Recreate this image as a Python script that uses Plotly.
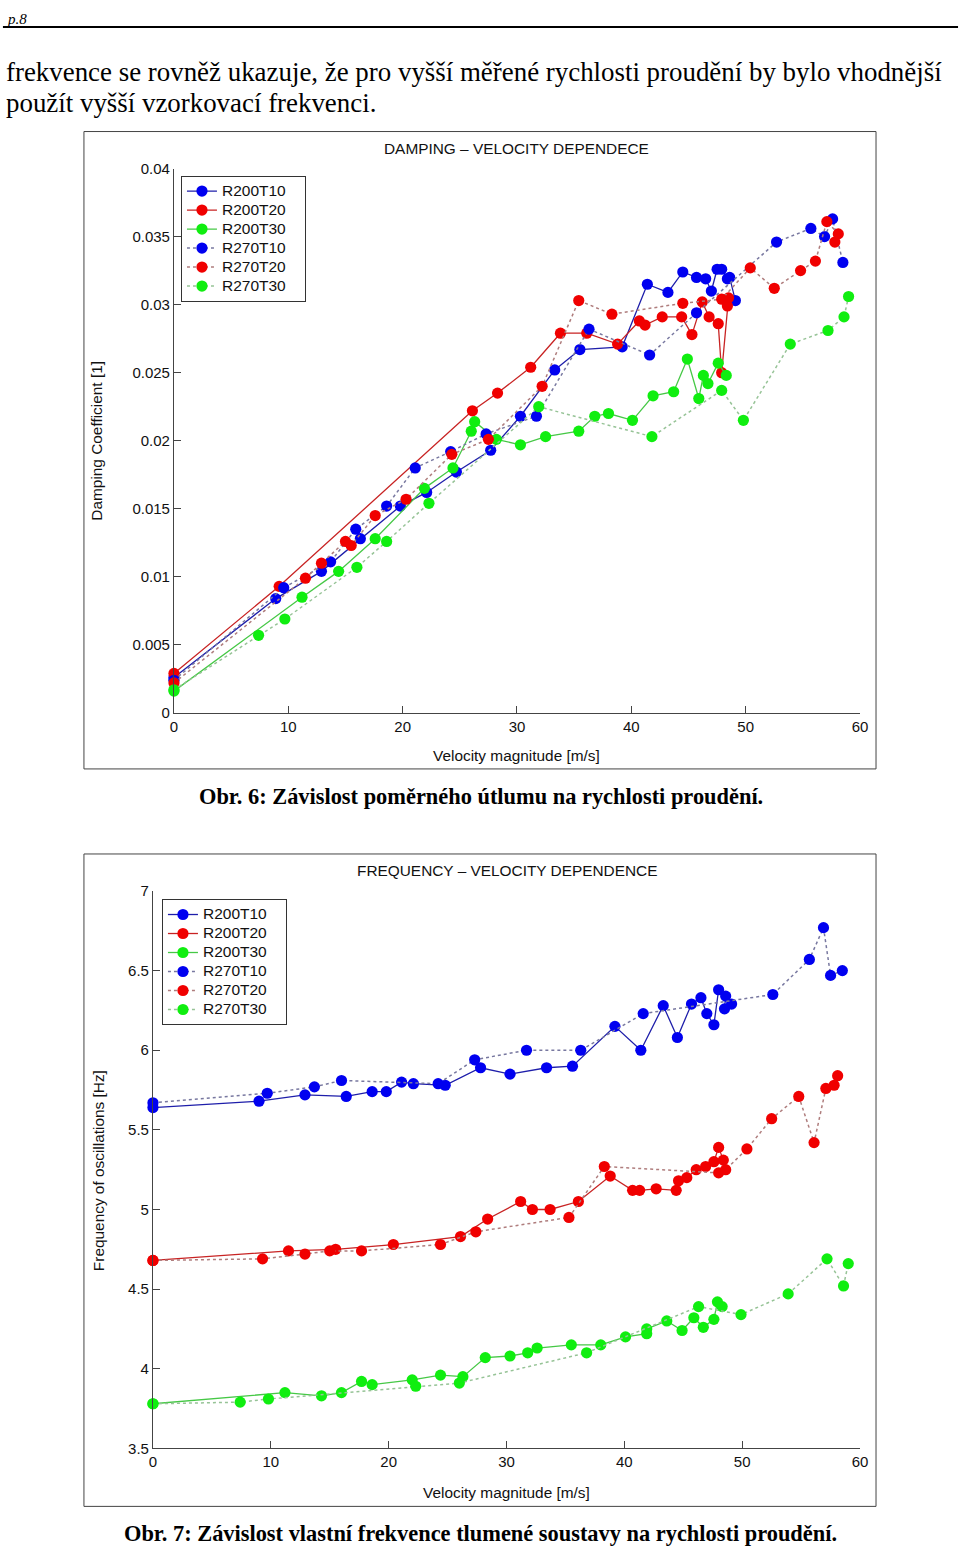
import plotly.graph_objects as go

W, H = 960, 1547

# ---------------- Chart 1: damping vs velocity ----------------
damp_v_R200T10 = [0, 8.9, 12.9, 16.3, 19.8, 22.1, 24.7, 27.7, 30.3, 33.3, 35.5, 39.2, 41.4, 43.2, 44.5, 45.7, 46.5, 47.0, 47.5, 47.9, 48.4, 48.6, 49.1]
damp_R200T10 = [0.0026, 0.0084, 0.0104, 0.0128, 0.0152, 0.0162, 0.0177, 0.0193, 0.0218, 0.0252, 0.0267, 0.0269, 0.0315, 0.0309, 0.0324, 0.0320, 0.0319, 0.0310, 0.0326, 0.0326, 0.0319, 0.0320, 0.0303]

damp_v_R200T20 = [0, 9.2, 26.1, 28.3, 31.2, 33.8, 36.1, 38.8, 40.7, 41.2, 42.7, 44.4, 45.3, 46.2, 46.8, 47.6, 47.9, 48.4, 48.5]
damp_R200T20 = [0.0029, 0.0093, 0.0222, 0.0235, 0.0254, 0.0279, 0.0279, 0.0271, 0.0288, 0.0285, 0.0291, 0.0291, 0.0278, 0.0302, 0.0291, 0.0286, 0.0250, 0.0299, 0.0305]

damp_v_R200T30 = [0, 11.2, 14.4, 17.6, 21.9, 24.4, 26.0, 26.3, 28.2, 30.3, 32.5, 35.4, 36.8, 38.0, 40.1, 41.9, 43.7, 44.9, 45.9, 46.3, 46.7, 47.6, 48.3]
damp_R200T30 = [0.0016, 0.0085, 0.0104, 0.0128, 0.0165, 0.0180, 0.0207, 0.0214, 0.0201, 0.0197, 0.0203, 0.0207, 0.0218, 0.0220, 0.0215, 0.0233, 0.0236, 0.0260, 0.0231, 0.0248, 0.0242, 0.0257, 0.0248]

damp_v_R270T10 = [0, 9.6, 13.7, 15.9, 18.6, 21.1, 24.2, 27.3, 31.7, 36.3, 41.6, 45.7, 52.7, 55.7, 56.9, 57.6, 58.5]
damp_R270T10 = [0.0024, 0.0092, 0.0111, 0.0135, 0.0152, 0.0180, 0.0192, 0.0205, 0.0218, 0.0282, 0.0263, 0.0294, 0.0346, 0.0356, 0.0350, 0.0363, 0.0331]

damp_v_R270T20 = [0, 11.5, 12.9, 15.0, 15.5, 17.6, 20.3, 24.3, 27.5, 32.2, 35.4, 38.3, 44.5, 47.9, 50.4, 52.5, 54.8, 56.1, 57.1, 58.1, 57.8]
damp_R270T20 = [0.0022, 0.0099, 0.0110, 0.0126, 0.0123, 0.0145, 0.0157, 0.0190, 0.0201, 0.0240, 0.0303, 0.0293, 0.0301, 0.0304, 0.0327, 0.0312, 0.0325, 0.0332, 0.0361, 0.0352, 0.0346]

damp_v_R270T30 = [0, 7.4, 9.7, 16.0, 18.6, 22.3, 31.9, 41.8, 47.9, 49.8, 53.9, 57.2, 58.6, 59.0]
damp_R270T30 = [0.0017, 0.0057, 0.0069, 0.0107, 0.0126, 0.0154, 0.0225, 0.0203, 0.0237, 0.0215, 0.0271, 0.0281, 0.0291, 0.0306]

damp_ticks = [0, 0.005, 0.01, 0.015, 0.02, 0.025, 0.03, 0.035, 0.04]
damp_ticktext = ["0", "0.005", "0.01", "0.015", "0.02", "0.025", "0.03", "0.035", "0.04"]

# ---------------- Chart 2: frequency vs velocity ----------------
freq_v_R200T10 = [0, 9.0, 12.9, 16.4, 18.6, 19.8, 21.1, 22.1, 24.8, 27.8, 30.3, 33.4, 35.6, 39.2, 41.4, 43.3, 44.5, 45.7, 46.5, 47.0, 47.6, 48.0, 48.6, 48.5, 49.1]
freq_R200T10 = [5.64, 5.68, 5.72, 5.71, 5.74, 5.74, 5.80, 5.79, 5.78, 5.89, 5.85, 5.89, 5.90, 6.15, 6.00, 6.28, 6.08, 6.29, 6.33, 6.23, 6.16, 6.38, 6.34, 6.26, 6.29]

freq_v_R200T20 = [0, 11.5, 15.5, 20.4, 26.1, 28.4, 31.2, 32.2, 33.7, 36.1, 38.8, 40.7, 41.3, 42.7, 44.4, 44.6, 45.3, 46.1, 46.9, 47.6, 48.0, 48.4]
freq_R200T20 = [4.68, 4.74, 4.75, 4.78, 4.83, 4.94, 5.05, 5.00, 5.00, 5.05, 5.21, 5.12, 5.12, 5.13, 5.12, 5.18, 5.20, 5.25, 5.27, 5.30, 5.39, 5.31]

freq_v_R200T30 = [0, 11.2, 14.3, 16.0, 17.7, 18.6, 22.0, 24.4, 26.3, 28.2, 30.3, 31.8, 32.6, 35.5, 38.0, 40.1, 41.9, 41.9, 43.6, 44.9, 45.9, 46.7, 47.6, 47.9, 48.3]
freq_R200T30 = [3.78, 3.85, 3.83, 3.85, 3.92, 3.90, 3.93, 3.96, 3.95, 4.07, 4.08, 4.10, 4.13, 4.15, 4.15, 4.20, 4.22, 4.25, 4.30, 4.24, 4.32, 4.26, 4.31, 4.42, 4.39]

freq_v_R270T10 = [0, 9.7, 13.7, 16.0, 24.2, 27.3, 31.7, 36.3, 41.6, 52.6, 55.7, 56.9, 57.5, 58.5]
freq_R270T10 = [5.67, 5.73, 5.77, 5.81, 5.79, 5.94, 6.00, 6.00, 6.23, 6.35, 6.57, 6.77, 6.47, 6.50]

freq_v_R270T20 = [0, 9.3, 12.9, 15.0, 17.7, 24.4, 27.4, 35.3, 38.3, 48.0, 48.6, 50.4, 52.5, 54.8, 56.1, 57.1, 57.8, 58.1]
freq_R270T20 = [4.68, 4.69, 4.72, 4.74, 4.74, 4.78, 4.86, 4.95, 5.27, 5.23, 5.25, 5.38, 5.57, 5.71, 5.42, 5.76, 5.78, 5.84]

freq_v_R270T30 = [0, 7.4, 9.8, 22.3, 26.0, 36.8, 46.3, 49.9, 53.9, 57.2, 58.6, 59.0]
freq_R270T30 = [3.78, 3.79, 3.81, 3.89, 3.91, 4.10, 4.39, 4.34, 4.47, 4.69, 4.52, 4.66]

freq_ticks = [3.5, 4, 4.5, 5, 5.5, 6, 6.5, 7]
freq_ticktext = ["3.5", "4", "4.5", "5", "5.5", "6", "6.5", "7"]

x_ticks = [0, 10, 20, 30, 40, 50, 60]
x_ticktext = ["0", "10", "20", "30", "40", "50", "60"]

series_names = ["R200T10", "R200T20", "R200T30", "R270T10", "R270T20", "R270T30"]

# ---------------- styles ----------------
marker_colors = ["#0000f0", "#f00000", "#10ee10", "#0000f0", "#f00000", "#10ee10"]
line_colors = ["rgb(30,30,170)", "rgb(200,35,35)", "rgb(70,200,70)",
               "rgb(120,120,160)", "rgb(175,125,125)", "rgb(150,195,150)"]
dashes = ["solid", "solid", "solid", "dot", "dot", "dot"]

SANS = "Liberation Sans, Arial, sans-serif"
SERIF = "Liberation Serif, Times New Roman, serif"

# page-pixel -> paper coordinates (small correction for the capture scaling)
SX, OX = 0.9874, 4.06
SY, OY = 0.9884, 9.54

def px(x):
    return ((x - OX) / SX) / W

def py(y):
    return 1 - ((y - OY) / SY) / H

def legend_label(name):
    return "<span style='font-size:15.5px'>" + name + "</span>" + "\u00a0" * 4

fig = go.Figure()

damp_sets = [(damp_v_R200T10, damp_R200T10), (damp_v_R200T20, damp_R200T20), (damp_v_R200T30, damp_R200T30),
             (damp_v_R270T10, damp_R270T10), (damp_v_R270T20, damp_R270T20), (damp_v_R270T30, damp_R270T30)]
freq_sets = [(freq_v_R200T10, freq_R200T10), (freq_v_R200T20, freq_R200T20), (freq_v_R200T30, freq_R200T30),
             (freq_v_R270T10, freq_R270T10), (freq_v_R270T20, freq_R270T20), (freq_v_R270T30, freq_R270T30)]

for i, (xv, yv) in enumerate(damp_sets):
    fig.add_trace(go.Scatter(
        x=xv, y=yv, mode="lines+markers", name=legend_label(series_names[i]),
        line=dict(color=line_colors[i], width=1.3 if dashes[i] == "solid" else 1.5, dash=dashes[i]),
        marker=dict(color=marker_colors[i], size=11.2, line=dict(width=0)),
        xaxis="x", yaxis="y", legend="legend", cliponaxis=False))

for i, (xv, yv) in enumerate(freq_sets):
    fig.add_trace(go.Scatter(
        x=xv, y=yv, mode="lines+markers", name=legend_label(series_names[i]),
        line=dict(color=line_colors[i], width=1.3 if dashes[i] == "solid" else 1.5, dash=dashes[i]),
        marker=dict(color=marker_colors[i], size=11.2, line=dict(width=0)),
        xaxis="x2", yaxis="y2", legend="legend2", cliponaxis=False))

axis_common = dict(showgrid=False, zeroline=False, showline=True, linecolor="#444", linewidth=1,
                   ticks="inside", ticklen=7, tickcolor="#444", tickwidth=1,
                   tickfont=dict(family=SANS, size=15, color="#111"), mirror=False)

legend_common = dict(xanchor="left", yanchor="top", bgcolor="white", bordercolor="#333", borderwidth=1,
                     font=dict(family=SANS, size=12, color="#111"), itemwidth=30, tracegroupgap=0)

fig.update_layout(
    width=W, height=H, autosize=False,
    margin=dict(l=0, r=0, t=0, b=0),
    paper_bgcolor="white", plot_bgcolor="white",
    showlegend=True,
    xaxis=dict(domain=[px(174), px(860)], range=[0, 60], anchor="y",
               tickvals=x_ticks, ticktext=x_ticktext, **axis_common),
    yaxis=dict(domain=[py(713), py(169)], range=[0, 0.04], anchor="x",
               tickvals=damp_ticks, ticktext=damp_ticktext, **axis_common),
    xaxis2=dict(domain=[px(153), px(860)], range=[0, 60], anchor="y2",
                tickvals=x_ticks, ticktext=x_ticktext, **axis_common),
    yaxis2=dict(domain=[py(1448), py(891)], range=[3.5, 7], anchor="x2",
                tickvals=freq_ticks, ticktext=freq_ticktext, **axis_common),
    legend=dict(x=px(181), y=py(176), **legend_common),
    legend2=dict(x=px(162), y=py(899), **legend_common),
)

shapes = [
    dict(type="line", xref="paper", yref="paper", x0=px(3), x1=px(958), y0=py(27.5), y1=py(27.5),
         line=dict(color="black", width=2)),
    dict(type="rect", xref="paper", yref="paper", x0=px(84), x1=px(876), y0=py(132), y1=py(769),
         line=dict(color="#444", width=1)),
    dict(type="rect", xref="paper", yref="paper", x0=px(84), x1=px(876), y0=py(854), y1=py(1506),
         line=dict(color="#444", width=1)),
]

def ann(text, x, y, size, family=SANS, xanchor="center", yanchor="middle", angle=0, color="#111"):
    return dict(text=text, x=px(x), y=py(y), xref="paper", yref="paper", showarrow=False,
                xanchor=xanchor, yanchor=yanchor, textangle=angle,
                font=dict(family=family, size=size, color=color))

annotations = [
    dict(text="<i>p.8</i>", x=px(5), y=1, xref="paper", yref="paper", showarrow=False,
         xanchor="left", yanchor="top", font=dict(family=SERIF, size=15, color="black")),
    ann("frekvence se rovněž ukazuje, že pro vyšší měřené rychlosti proudění by bylo vhodnější",
        4, 73, 26.9, family=SERIF, xanchor="left", color="black"),
    ann("použít vyšší vzorkovací frekvenci.", 4, 103, 26.9, family=SERIF, xanchor="left", color="black"),
    ann("DAMPING – VELOCITY DEPENDECE", 517, 149, 15.4),
    ann("Velocity magnitude [m/s]", 517, 756, 15.4),
    ann("Damping Coefficient [1]", 97, 441, 15.4, angle=-90),
    ann("<b>Obr. 6: Závislost poměrného útlumu na rychlosti proudění.</b>", 481, 797, 22.4,
        family=SERIF, color="black"),
    ann("FREQUENCY – VELOCITY DEPENDENCE", 507, 871, 15.4),
    ann("Velocity magnitude [m/s]", 507, 1492, 15.4),
    ann("Frequency of oscillations [Hz]", 98, 1170, 15.4, angle=-90),
    ann("<b>Obr. 7: Závislost vlastní frekvence tlumené soustavy na rychlosti proudění.</b>", 481, 1533, 22.4,
        family=SERIF, color="black"),
]

fig.update_layout(shapes=shapes, annotations=annotations)

page_css = ("var r=document.documentElement.style;r.margin='0';r.padding='0';r.overflow='hidden';"
            "var b=document.body.style;b.margin='0';b.padding='0';b.overflow='hidden';")

fig.write_html("out.html", config={"displayModeBar": False}, post_script=page_css)
